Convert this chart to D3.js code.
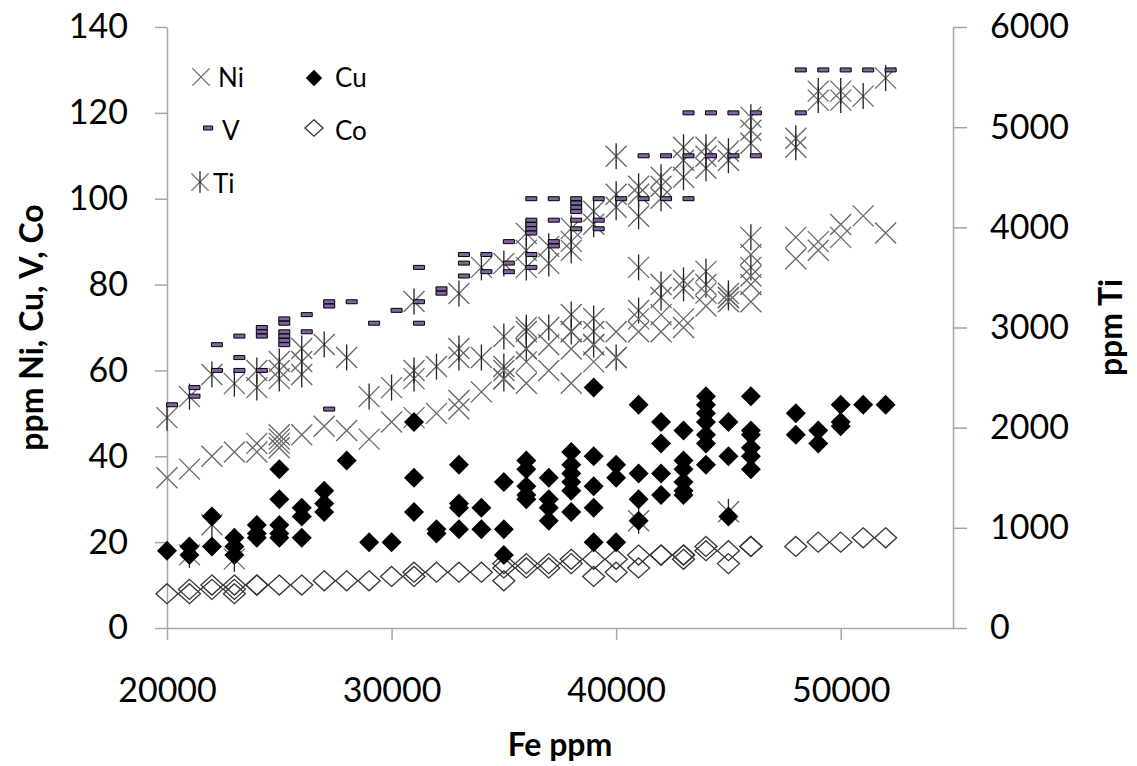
<!DOCTYPE html>
<html>
<head>
<meta charset="utf-8">
<script src="https://cdn.jsdelivr.net/npm/d3@7"></script>
<style>
  body { margin: 0; background: #fff; }
  svg text { font-family: Lato, "Open Sans", sans-serif; }
</style>
</head>
<body>
<div id="chart"></div>
<script>
//Tick values
var xTicks = [20000, 30000, 40000, 50000];
var leftTicks = [0, 20, 40, 60, 80, 100, 120, 140];
var rightTicks = [0, 1000, 2000, 3000, 4000, 5000, 6000];

//Series: [Fe ppm, value]
var ni = [[20000,35],[21000,37],[22000,40],[23000,41],[24000,41],[24000,43],
  [25000,42],[25000,43],[25000,44],[25000,45],[26000,45],[27000,47],[28000,46],
  [29000,44],[30000,48],[31000,49],[32000,50],[33000,51],[33000,53],[34000,55],
  [35000,58],[35000,60],[36000,57],[36000,62],[36000,65],[37000,60],[37000,66],
  [38000,57],[38000,65],[38000,69],[39000,62],[39000,66],[40000,63],[40000,69],
  [41000,69],[41000,72],[42000,69],[42000,73],[43000,70],[43000,72],
  [44000,75],[44000,78],[45000,76],[45000,77],[46000,76],[46000,80],[46000,82],[46000,87],
  [48000,86],[48000,91],[49000,88],[49000,90],[50000,91],[50000,94],[51000,96],[52000,92]];

var cu = [[20000,18],[21000,19],[21000,17],[22000,26],[22000,19],[23000,21],[23000,19],[23000,17],
  [24000,24],[24000,22],[24000,21],[25000,37],[25000,30],[25000,24],[25000,22],[25000,21],
  [26000,28],[26000,26],[26000,21],[27000,32],[27000,29],[27000,27],[28000,39],[29000,20],[30000,20],
  [31000,48],[31000,35],[31000,27],[32000,23],[32000,22],[33000,38],[33000,29],[33000,28],[33000,23],
  [34000,28],[34000,23],[35000,34],[35000,23],[35000,17],[36000,39],[36000,37],[36000,33],[36000,31],[36000,30],
  [37000,35],[37000,30],[37000,28],[37000,25],[38000,41],[38000,38],[38000,36],[38000,34],[38000,32],[38000,27],
  [39000,56],[39000,40],[39000,33],[39000,28],[39000,20],[40000,38],[40000,35],[40000,20],
  [41000,52],[41000,36],[41000,30],[41000,25],[42000,48],[42000,43],[42000,36],[42000,31],
  [43000,46],[43000,39],[43000,37],[43000,34],[43000,32],[43000,31],
  [44000,54],[44000,52],[44000,50],[44000,48],[44000,45],[44000,43],[44000,38],
  [45000,48],[45000,40],[45000,26],[46000,54],[46000,46],[46000,45],[46000,42],[46000,40],[46000,37],
  [48000,50],[48000,45],[49000,46],[49000,43],[50000,52],[50000,48],[50000,47],[51000,52],[52000,52]];

var v = [[20000,52],[21000,56],[21000,54],[22000,66],[22000,60],[23000,68],[23000,63],[23000,60],
  [24000,70],[24000,69],[24000,68],[24000,60],[25000,72],[25000,71],[25000,69],[25000,68],[25000,67],[25000,66],
  [26000,73],[26000,69],[27000,76],[27000,75],[27000,51],[28000,76],[29000,71],[30000,74],
  [31000,84],[31000,76],[31000,71],[32000,79],[32000,78],[33000,87],[33000,85],[33000,82],
  [34000,87],[34000,83],[35000,90],[35000,85],[35000,83],
  [36000,100],[36000,95],[36000,94],[36000,93],[36000,92],[36000,87],[36000,84],
  [37000,100],[37000,95],[37000,90],[37000,89],[38000,100],[38000,99],[38000,98],[38000,97],[38000,95],[38000,93],
  [39000,100],[39000,95],[39000,93],[40000,100],[41000,110],[41000,100],[42000,110],[42000,100],
  [43000,120],[43000,110],[43000,100],[44000,120],[44000,110],[45000,120],[45000,110],[46000,120],[46000,110],
  [48000,130],[48000,120],[49000,130],[50000,130],[51000,130],[52000,130]];

var co = [[20000,8],[21000,8],[21000,9],[22000,9],[22000,10],[23000,9],[23000,10],[23000,8],
  [24000,10],[24000,10],[25000,10],[26000,10],[27000,11],[28000,11],[29000,11],[30000,12],
  [31000,13],[31000,12],[32000,13],[33000,13],[34000,13],[35000,15],[35000,14],[35000,11],
  [36000,15],[36000,14],[37000,15],[37000,14],[38000,16],[38000,15],[39000,16],[39000,12],
  [40000,16],[40000,13],[41000,17],[41000,14],[42000,17],[42000,17],[43000,17],[43000,17],[43000,16],
  [44000,18],[44000,19],[45000,18],[45000,15],[46000,19],[46000,19],
  [48000,19],[49000,20],[50000,20],[51000,21],[52000,21]];

//Ti is on the right axis (ppm)
var ti = [[20000,2100],[21000,2310],[21000,730],[22000,2530],[22000,1030],[23000,2440],[23000,690],
  [24000,2400],[24000,2570],[25000,2490],[25000,2570],[25000,2660],[26000,2530],[26000,2660],[26000,2790],
  [27000,2830],[28000,2700],[29000,2310],[30000,2400],[31000,2490],[31000,2570],[31000,3260],[32000,2610],
  [33000,2700],[33000,2790],[33000,3340],[34000,2700],[34000,3600],
  [35000,2490],[35000,2610],[35000,2910],[35000,3640],
  [36000,2790],[36000,2960],[36000,3000],[36000,3600],[36000,3770],[36000,3940],
  [37000,3000],[37000,3640],[37000,3810],[38000,2960],[38000,3130],[38000,3770],[38000,3860],[38000,3990],
  [39000,2830],[39000,2960],[39000,3090],[39000,4030],[39000,4160],
  [40000,2700],[40000,4200],[40000,4330],[40000,4710],
  [41000,1070],[41000,3170],[41000,3600],[41000,4110],[41000,4330],[41000,4410],
  [42000,3300],[42000,3430],[42000,4290],[42000,4410],[42000,4500],
  [43000,3390],[43000,3470],[43000,4500],[43000,4670],[43000,4800],
  [44000,3430],[44000,3560],[44000,4590],[44000,4710],[44000,4800],
  [45000,1160],[45000,3300],[45000,3340],[45000,4670],[45000,4760],
  [46000,3600],[46000,3900],[46000,4840],[46000,4970],[46000,5100],
  [48000,4800],[48000,4890],[49000,5270],[49000,5360],[50000,5270],[50000,5360],[51000,5310],[52000,5490]];

//Chart dimensions
var width = 1137, height = 766;
var plot = { left: 167, right: 953, top: 27, bottom: 628 };
var axisColor = "#a6a6a6";

var svg = d3.select("#chart").append("svg")
  .attr("width", width)
  .attr("height", height);

var x = d3.scaleLinear().domain([20000, 55000]).range([plot.left, plot.right]);
var yL = d3.scaleLinear().domain([0, 140]).range([plot.bottom, plot.top]);
var yR = d3.scaleLinear().domain([0, 6000]).range([plot.bottom, plot.top]);

//Marker shapes
function cross(s) { return "M" + -s + "," + -s + "L" + s + "," + s + "M" + -s + "," + s + "L" + s + "," + -s; }
function diamond(w, h) { return "M0," + -h + "L" + w + ",0L0," + h + "L" + -w + ",0Z"; }
function dash(w, h, dx) { return "M" + (dx - w / 2) + "," + (-h / 2) + "h" + w + "v" + h + "h" + -w + "Z"; }

var markers = {
  ni: function (g, k) { g.append("path").attr("d", cross(10.5 * k)).attr("stroke", "#666").attr("stroke-width", 1.3).attr("fill", "none"); },
  ti: function (g, k) {
    g.append("path").attr("d", cross(10.5 * k)).attr("stroke", "#666").attr("stroke-width", 1.3).attr("fill", "none");
    g.append("path").attr("d", "M0," + (-13 * k) + "V" + (13 * k)).attr("stroke", "#222").attr("stroke-width", 1.3);
  },
  cu: function (g, k) { g.append("path").attr("d", diamond(10 * k, 10 * k)).attr("fill", "#000"); },
  co: function (g, k) { g.append("path").attr("d", diamond(11 * k, 10 * k)).attr("fill", "none").attr("stroke", "#333").attr("stroke-width", 1.3); },
  v: function (g, k) { g.append("path").attr("d", dash(11 * k, 4, 5 * k)).attr("fill", "#8064a2").attr("stroke", "#000").attr("stroke-width", 1); }
};

//Axes
var leftAxis = svg.append("g")
  .attr("transform", "translate(" + plot.left + ",0)")
  .call(d3.axisLeft(yL).tickValues(leftTicks).tickSize(12).tickSizeOuter(0).tickPadding(27));
var rightAxis = svg.append("g")
  .attr("transform", "translate(" + plot.right + ",0)")
  .call(d3.axisRight(yR).tickValues(rightTicks).tickFormat(d3.format("d")).tickSize(14).tickSizeOuter(0).tickPadding(23));
var bottomAxis = svg.append("g")
  .attr("transform", "translate(0," + plot.bottom + ")")
  .call(d3.axisBottom(x).tickValues(xTicks).tickFormat(d3.format("d")).tickSize(12).tickSizeOuter(0));
bottomAxis.selectAll("text").attr("y", 74).attr("dy", 0);

[leftAxis, rightAxis, bottomAxis].forEach(function (a) {
  a.select(".domain").attr("stroke", axisColor).attr("stroke-width", 1.5);
  a.selectAll(".tick line").attr("stroke", axisColor).attr("stroke-width", 1.5);
  a.selectAll("text").attr("fill", "#000").style("font-size", "34px");
});

//Points
function drawSeries(data, yScale, key) {
  svg.append("g").selectAll("g")
    .data(data)
    .enter()
    .append("g")
    .attr("transform", function (d) { return "translate(" + x(d[0]) + "," + yScale(d[1]) + ")"; })
    .each(function () { markers[key](d3.select(this), 1); });
}
drawSeries(ti, yR, "ti");
drawSeries(ni, yL, "ni");
drawSeries(co, yL, "co");
drawSeries(cu, yL, "cu");
drawSeries(v, yL, "v");

//Axis titles
svg.append("text")
  .attr("x", (plot.left + plot.right) / 2)
  .attr("y", 756)
  .attr("text-anchor", "middle")
  .style("font-size", "32px").style("font-weight", "bold")
  .text("Fe ppm");
svg.append("text")
  .attr("transform", "translate(43," + (plot.top + plot.bottom) / 2 + ") rotate(-90)")
  .attr("text-anchor", "middle")
  .style("font-size", "32px").style("font-weight", "bold")
  .text("ppm Ni, Cu, V, Co");
svg.append("text")
  .attr("transform", "translate(1122," + (plot.top + plot.bottom) / 2 + ") rotate(-90)")
  .attr("text-anchor", "middle")
  .style("font-size", "32px").style("font-weight", "bold")
  .text("ppm Ti");

//Legend
var legendItems = [
  { key: "ni", label: "Ni", mx: 201, my: 77, tx: 218, ty: 87 },
  { key: "cu", label: "Cu", mx: 314, my: 78, tx: 335, ty: 87 },
  { key: "v", label: "V", mx: 204, my: 128, tx: 222, ty: 140 },
  { key: "co", label: "Co", mx: 314, my: 128, tx: 335, ty: 140 },
  { key: "ti", label: "Ti", mx: 200, my: 182, tx: 213, ty: 193 }
];
var legend = svg.append("g").attr("class", "legend");
legendItems.forEach(function (d) {
  var m = legend.append("g").attr("transform", "translate(" + d.mx + "," + d.my + ")");
  markers[d.key](m, 0.82);
  legend.append("text")
    .attr("x", d.tx).attr("y", d.ty)
    .style("font-size", "26px")
    .text(d.label);
});
</script>
</body>
</html>
